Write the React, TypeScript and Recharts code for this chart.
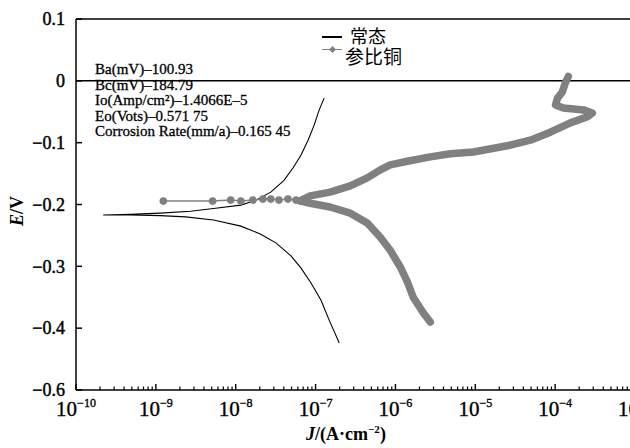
import { LineChart, Line, XAxis, YAxis, ReferenceLine } from "recharts";

// x: current density J (A/cm2), y: potential E (V)
const normalJ = [
  1.98e-7, 1.48e-7, 1.17e-7, 8.77e-8, 6.58e-8, 4.92e-8, 3.18e-8, 2.06e-8, 1.16e-8, 5.28e-9, 2.35e-9, 1.14e-9, 4.78e-10, 2.19e-10,
  4.78e-10, 1.14e-9, 2.72e-9, 5.6e-9, 1.16e-8, 1.79e-8, 2.75e-8, 4.02e-8, 5.21e-8, 6.58e-8, 8.05e-8, 9.57e-8, 1.11e-7, 1.28e-7,
];
const normalE = [
  -0.424, -0.387, -0.355, -0.327, -0.303, -0.283, -0.262, -0.248, -0.235, -0.225, -0.22, -0.218, -0.217, -0.217,
  -0.216, -0.214, -0.211, -0.206, -0.201, -0.193, -0.18, -0.161, -0.141, -0.12, -0.096, -0.072, -0.047, -0.028,
];

// 参比铜: sparse points near the corrosion potential
const cuSparseJ = [1.24e-9, 5.14e-9, 8.65e-9, 1.16e-8, 1.64e-8, 2.19e-8, 2.75e-8, 3.48e-8, 4.51e-8, 5.69e-8, 6.41e-8];
const cuSparseE = [-0.1945, -0.1945, -0.1929, -0.1945, -0.1929, -0.1913, -0.1913, -0.1929, -0.1913, -0.1929, -0.194];

// 参比铜: dense part of the scan (cathodic end -> anodic end)
const cuBandJ = [
  2.73e-6, 2.23e-6, 1.67e-6, 1.41e-6, 1.15e-6, 8.61e-7, 6.46e-7, 4.44e-7, 2.72e-7, 1.52e-7, 8.55e-8, 6.41e-8,
  8.55e-8, 1.52e-7, 2.72e-7, 4.44e-7, 6.46e-7, 8.61e-7, 1.41e-6, 2.73e-6, 4.86e-6, 9.44e-6, 2.52e-5, 4.89e-5,
  8.71e-5, 1.55e-4, 2.54e-4, 2.92e-4, 2.25e-4, 1.27e-4, 1.01e-4, 1.07e-4, 1.23e-4, 1.34e-4, 1.46e-4,
];
const cuBandE = [
  -0.39, -0.375, -0.35, -0.325, -0.301, -0.274, -0.253, -0.23, -0.214, -0.204, -0.198, -0.194,
  -0.186, -0.18, -0.17, -0.157, -0.144, -0.136, -0.13, -0.123, -0.118, -0.115, -0.105, -0.096,
  -0.083, -0.068, -0.058, -0.052, -0.047, -0.044, -0.039, -0.028, -0.018, -0.0035, 0.007,
];

const xMajors = [1e-10, 1e-9, 1e-8, 1e-7, 1e-6, 1e-5, 1e-4, 1e-3];
const xMajorExps = ["−10", "−9", "−8", "−7", "−6", "−5", "−4", "−3"];
const xMinorSteps = [2, 3, 4, 5, 6, 7, 8, 9];

const yTicks = [0.1, 0, -0.1, -0.2, -0.3, -0.4, -0.5];
const yTickLabels = ["0.1", "0", "−0.1", "−0.2", "−0.3", "−0.4", "−0.6"];

const annotation = [
  "Ba(mV)–100.93",
  "Bc(mV)–184.79",
  "Io(Amp/cm²)–1.4066E–5",
  "Eo(Vots)–0.571 75",
  "Corrosion Rate(mm/a)–0.165 45",
];

const zip = (js: number[], es: number[]) => js.map((j, i) => ({ j, e: es[i] }));
const normalData = zip(normalJ, normalE);
const cuSparseData = zip(cuSparseJ, cuSparseE);
const cuBandData = zip(cuBandJ, cuBandE);

const xTicks: number[] = [];
xMajors.forEach((m, i) => {
  xTicks.push(m);
  if (i < xMajors.length - 1) xMinorSteps.forEach((k) => xTicks.push(k * m));
});

const SERIF = "'Liberation Serif', 'Times New Roman', serif";
const CJK = "'Noto Sans CJK SC', sans-serif";
const GREY = "#808080";

function XTick(props: any) {
  const { x, y, payload } = props;
  const idx = xMajors.findIndex((m) => Math.abs(m - payload.value) / m < 1e-6);
  if (idx < 0) {
    return <line x1={x} y1={y} x2={x} y2={y - 3.5} stroke="#000" strokeWidth={1.2} />;
  }
  return (
    <g>
      <line x1={x} y1={y} x2={x} y2={y - 6} stroke="#000" strokeWidth={1.4} />
      <text x={x} y={y + 26} textAnchor="middle" fontFamily={SERIF} fontSize={21} fill="#000" stroke="#000" strokeWidth={0.35}>
        <tspan>10</tspan>
        <tspan dy={-9} fontSize={12}>{xMajorExps[idx]}</tspan>
      </text>
    </g>
  );
}

function YTick(props: any) {
  const { x, y, payload } = props;
  const idx = yTicks.findIndex((t) => Math.abs(t - payload.value) < 1e-9);
  return (
    <g>
      <line x1={x} y1={y} x2={x + 6} y2={y} stroke="#000" strokeWidth={1.5} />
      <text x={x - 11} y={y} dy="0.35em" textAnchor="end" fontFamily={SERIF} fontSize={18} fill="#000" stroke="#000" strokeWidth={0.45}>
        {yTickLabels[idx]}
      </text>
    </g>
  );
}

export default function App() {
  return (
    <div style={{ position: "absolute", left: 0, top: 0, width: 630, height: 448, overflow: "hidden", background: "#fff" }}>
      <LineChart width={640} height={448} margin={{ top: 19, right: 5, bottom: 0, left: 0 }}>
        <XAxis
          dataKey="j"
          type="number"
          scale="log"
          domain={[1e-10, 1e-3]}
          ticks={xTicks}
          allowDataOverflow
          interval={0}
          height={58}
          tickSize={0}
          tickMargin={0}
          tickLine={false}
          tick={<XTick />}
          axisLine={{ stroke: "#000", strokeWidth: 1.5 }}
        />
        <YAxis
          type="number"
          domain={[-0.5, 0.1]}
          ticks={yTicks}
          interval={0}
          width={76}
          tickSize={0}
          tickMargin={0}
          tickLine={false}
          tick={<YTick />}
          axisLine={{ stroke: "#000", strokeWidth: 1.5 }}
        />
        <ReferenceLine y={0.1} stroke="#000" strokeWidth={1.5} />
        <ReferenceLine y={0} stroke="#000" strokeWidth={1.5} />
        <Line data={normalData} dataKey="e" stroke="#000" strokeWidth={1.1} dot={false} isAnimationActive={false} />
        <Line
          data={cuBandData}
          dataKey="e"
          stroke={GREY}
          strokeWidth={7.5}
          strokeLinecap="round"
          strokeLinejoin="round"
          dot={false}
          isAnimationActive={false}
        />
        <Line
          data={cuSparseData}
          dataKey="e"
          stroke={GREY}
          strokeWidth={1.5}
          dot={{ r: 3.8, fill: GREY, stroke: GREY, strokeWidth: 0 }}
          isAnimationActive={false}
        />
      </LineChart>

      {/* legend */}
      <div style={{ position: "absolute", left: 322, top: 36, width: 20, height: 1.5, background: "#000" }} />
      <div style={{ position: "absolute", left: 350, top: 26, fontFamily: CJK, fontSize: 18, lineHeight: "18px", color: "#000" }}>常态</div>
      <div style={{ position: "absolute", left: 322, top: 48.5, width: 20, height: 1.5, background: GREY }} />
      <div style={{ position: "absolute", left: 329.5, top: 46.5, width: 5, height: 5, background: GREY, transform: "rotate(45deg)" }} />
      <div style={{ position: "absolute", left: 345, top: 46, fontFamily: CJK, fontSize: 19, lineHeight: "19px", color: "#000" }}>参比铜</div>

      {/* fit results */}
      <div
        style={{
          position: "absolute",
          left: 95,
          top: 62,
          fontFamily: SERIF,
          fontSize: 15,
          lineHeight: "15.5px",
          color: "#000",
          whiteSpace: "pre",
          WebkitTextStroke: "0.3px #000",
        }}
      >
        {annotation.map((t) => (
          <div key={t}>{t}</div>
        ))}
      </div>

      {/* axis titles */}
      <div
        style={{
          position: "absolute",
          left: 17,
          top: 211,
          transform: "translate(-50%, -50%) rotate(-90deg)",
          fontFamily: SERIF,
          fontSize: 18,
          fontWeight: "bold",
          whiteSpace: "nowrap",
        }}
      >
        <i>E</i>/V
      </div>
      <div
        style={{
          position: "absolute",
          left: 346,
          top: 424,
          transform: "translateX(-50%)",
          fontFamily: SERIF,
          fontSize: 18,
          fontWeight: "bold",
          whiteSpace: "nowrap",
          lineHeight: "20px",
        }}
      >
        <i>J</i>/(A·cm<sup style={{ fontSize: 11, verticalAlign: "7px", lineHeight: 0 }}>−2</sup>)
      </div>
    </div>
  );
}
